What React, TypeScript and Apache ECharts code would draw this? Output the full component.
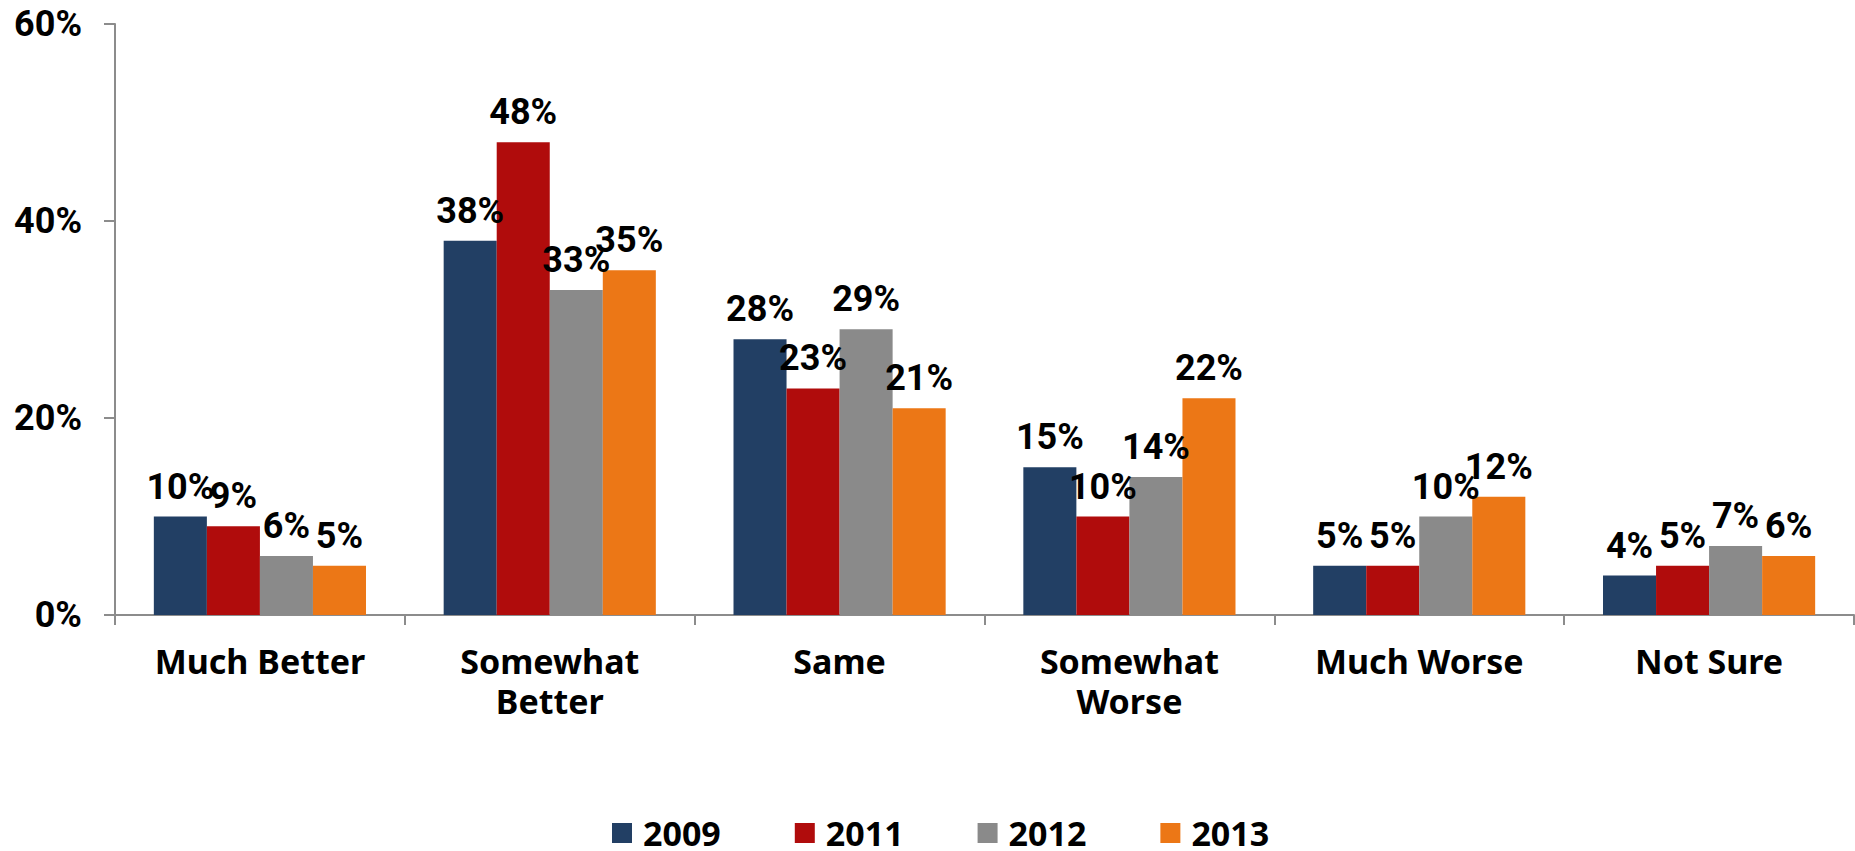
import React, { useEffect, useRef } from "react";
import * as echarts from "echarts";

const categories = ["Much Better", "Somewhat\nBetter", "Same", "Somewhat\nWorse", "Much Worse", "Not Sure"];
const seriesNames = ["2009", "2011", "2012", "2013"];
const values2009 = [10, 38, 28, 15, 5, 4];
const values2011 = [9, 48, 23, 10, 5, 5];
const values2012 = [6, 33, 29, 14, 10, 7];
const values2013 = [5, 35, 21, 22, 12, 6];
const yTicks = { min: 0, max: 60, interval: 20 };

const colors = ["#223F64", "#B00C0C", "#8A8A8A", "#EC7716"];

export default function App() {
  const ref = useRef<HTMLDivElement>(null);
  useEffect(() => {
    if (!ref.current) return;
    const chart = echarts.init(ref.current, undefined, { renderer: "svg" });
    const allValues = [values2009, values2011, values2012, values2013];
    const numFont = "Roboto";
    const textFont = "'Noto Sans'";
    chart.setOption({
      animation: false,
      backgroundColor: "#ffffff",
      grid: { left: 115, right: 1, top: 24, bottom: 236, containLabel: false },
      legend: {
        data: seriesNames,
        icon: "rect",
        itemWidth: 20,
        itemHeight: 20,
        itemGap: 74,
        left: 607,
        top: 811,
        textStyle: {
          fontFamily: textFont,
          fontWeight: "bold",
          fontSize: 34,
          color: "#000",
          padding: [0, 0, 0, 6],
        },
      },
      xAxis: {
        type: "category",
        data: categories,
        boundaryGap: true,
        axisLine: { show: true, lineStyle: { color: "#8C8C8C", width: 2 } },
        axisTick: { show: true, length: 10, alignWithLabel: false, lineStyle: { color: "#8C8C8C", width: 2 } },
        axisLabel: {
          margin: 26,
          fontFamily: textFont,
          fontWeight: "bold",
          fontSize: 34,
          lineHeight: 40,
          color: "#000",
          interval: 0,
        },
        splitLine: { show: false },
      },
      yAxis: {
        type: "value",
        min: yTicks.min,
        max: yTicks.max,
        interval: yTicks.interval,
        axisLine: { show: true, lineStyle: { color: "#8C8C8C", width: 2 } },
        axisTick: { show: true, length: 11, lineStyle: { color: "#8C8C8C", width: 2 } },
        axisLabel: {
          formatter: "{value}%",
          margin: 33,
          fontFamily: numFont,
          fontWeight: "bold",
          fontSize: 36,
          color: "#000",
        },
        splitLine: { show: false },
      },
      series: seriesNames.map((name, i) => ({
        name,
        type: "bar",
        data: allValues[i],
        barGap: "0%",
        barCategoryGap: "26.8%",
        itemStyle: { color: colors[i] },
        label: {
          show: true,
          position: "top",
          distance: 12,
          formatter: "{c}%",
          fontFamily: numFont,
          fontWeight: "bold",
          fontSize: 36,
          color: "#000",
        },
      })),
    });
    return () => chart.dispose();
  }, []);
  return (
    <div
      ref={ref}
      style={{ position: "fixed", left: 0, top: 0, width: 1855, height: 851, background: "#fff" }}
    />
  );
}
